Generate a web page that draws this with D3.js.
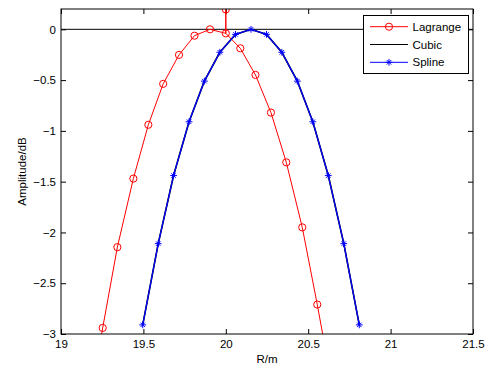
<!DOCTYPE html>
<html><head><meta charset="utf-8">
<script src="https://cdn.jsdelivr.net/npm/d3@7"></script>
<style>body{margin:0;background:#fff}svg{display:block}text{font-family:"Liberation Sans",Arial,sans-serif}</style>
</head><body>
<script>
// Data
const lagrangeX = [19.16, 19.253, 19.342, 19.439, 19.53, 19.62, 19.716, 19.81, 19.904, 20.0, 20.0, 20.0, 20.088, 20.18, 20.274, 20.367, 20.464, 20.555, 20.65];
const lagrangeY = [-3.8, -2.94, -2.145, -1.47, -0.94, -0.537, -0.252, -0.063, 0.0, -0.04, 0.196, -0.04, -0.187, -0.449, -0.82, -1.31, -1.95, -2.71, -3.55];
const lagrangeMarked = [false, true, true, true, true, true, true, true, true, true, true, false, true, true, true, true, true, true, false];
const splineX = [19.496, 19.59, 19.683, 19.777, 19.87, 19.964, 20.059, 20.153, 20.247, 20.34, 20.434, 20.528, 20.622, 20.716, 20.81];
const splineY = [-2.91, -2.11, -1.44, -0.91, -0.51, -0.226, -0.05, 0.0, -0.05, -0.226, -0.51, -0.91, -1.44, -2.11, -2.91];
const cubicX = splineX;
const cubicY = splineY;
const zeroLineX = [19, 21.5];
const zeroLineY = [0, 0];
const xTicks = [19, 19.5, 20, 20.5, 21, 21.5];
const yTicks = [0, -0.5, -1, -1.5, -2, -2.5, -3];
const legendLabels = ["Lagrange", "Cubic", "Spline"];

const W = 493, H = 365;
const m = {l: 61, r: 20, t: 9, b: 31};
const svg = d3.select("body").append("svg").attr("width", W).attr("height", H);
const x = d3.scaleLinear().domain([19, 21.5]).range([m.l, W - m.r]);
const y = d3.scaleLinear().domain([-3, 0.2]).range([H - m.b, m.t]);

svg.append("defs").append("clipPath").attr("id", "clip")
  .append("rect").attr("x", m.l).attr("y", m.t).attr("width", W - m.r - m.l).attr("height", H - m.b - m.t);

const fs = "11.5px";
// axes
const xAxisB = d3.axisBottom(x).tickValues(xTicks).tickSize(-5).tickPadding(5.5).tickFormat(d => d3.format("")(d));
const xAxisT = d3.axisTop(x).tickValues(xTicks).tickSize(-5).tickFormat("");
const yAxisL = d3.axisLeft(y).tickValues(yTicks).tickSize(-5).tickPadding(5).tickFormat(d => d3.format("")(d));
const yAxisR = d3.axisRight(y).tickValues(yTicks).tickSize(-5).tickFormat("");

function style(g) {
  g.select(".domain").remove();
  g.selectAll("line").attr("stroke", "#000");
  g.selectAll("text").attr("fill", "#000").style("font-size", fs);
}
svg.append("g").attr("transform", `translate(0,${H - m.b})`).call(xAxisB).call(style);
svg.append("g").attr("transform", `translate(0,${m.t})`).call(xAxisT).call(style);
svg.append("g").attr("transform", `translate(${m.l},0)`).call(yAxisL).call(style);
svg.append("g").attr("transform", `translate(${W - m.r},0)`).call(yAxisR).call(style);

const plot = svg.append("g").attr("clip-path", "url(#clip)");
const line = d3.line().x(d => x(d[0])).y(d => y(d[1]));

// zero line
plot.append("path").datum(zeroLineX.map((v, i) => [v, zeroLineY[i]]))
  .attr("d", line).attr("fill", "none").attr("stroke", "#000").attr("stroke-width", 1);

// cubic
plot.append("path").datum(cubicX.map((v, i) => [v, cubicY[i]]))
  .attr("d", line).attr("fill", "none").attr("stroke", "#000").attr("stroke-width", 1.6);

// lagrange
const lag = lagrangeX.map((v, i) => [v, lagrangeY[i], lagrangeMarked[i]]);
plot.append("path").datum(lag).attr("d", line).attr("fill", "none").attr("stroke", "#ff0000").attr("stroke-width", 1);
plot.selectAll(".lm").data(lag.filter(d => d[2])).join("circle")
  .attr("cx", d => x(d[0])).attr("cy", d => y(d[1])).attr("r", 3.6)
  .attr("fill", "none").attr("stroke", "#ff0000").attr("stroke-width", 1);

// spline
const spl = splineX.map((v, i) => [v, splineY[i]]);
plot.append("path").datum(spl).attr("d", line).attr("fill", "none").attr("stroke", "#0000ff").attr("stroke-width", 1.3);
function star(g, cx, cy, color) {
  const s = 3.4, d = s * 0.65;
  const p = `M${cx - s},${cy}L${cx + s},${cy}M${cx},${cy - s}L${cx},${cy + s}M${cx - d},${cy - d}L${cx + d},${cy + d}M${cx - d},${cy + d}L${cx + d},${cy - d}`;
  g.append("path").attr("d", p).attr("stroke", color).attr("stroke-width", 1).attr("fill", "none");
}
spl.forEach(d => star(plot, x(d[0]), y(d[1]), "#0000ff"));

// frame
svg.append("rect").attr("x", m.l).attr("y", m.t).attr("width", W - m.r - m.l).attr("height", H - m.b - m.t)
  .attr("fill", "none").attr("stroke", "#000").attr("stroke-width", 1);

// axis labels
svg.append("text").attr("x", (m.l + W - m.r) / 2).attr("y", 362.5).attr("text-anchor", "middle")
  .style("font-size", fs).text("R/m");
svg.append("text").attr("transform", `translate(25.5,${(m.t + H - m.b) / 2}) rotate(-90)`).attr("text-anchor", "middle")
  .style("font-size", fs).text("Amplitude/dB");

// legend
const lg = svg.append("g");
lg.append("rect").attr("x", 363.5).attr("y", 15.5).attr("width", 105).attr("height", 58)
  .attr("fill", "#fff").attr("stroke", "#000").attr("stroke-width", 1);
const colors = ["#ff0000", "#000000", "#0000ff"];
legendLabels.forEach((lab, i) => {
  const yy = 26.7 + i * 17.8;
  lg.append("line").attr("x1", 370).attr("x2", 408).attr("y1", yy).attr("y2", yy).attr("stroke", colors[i]).attr("stroke-width", 1);
  if (i === 0) lg.append("circle").attr("cx", 389).attr("cy", yy).attr("r", 3.6).attr("fill", "none").attr("stroke", colors[i]);
  if (i === 2) star(lg, 389, yy, colors[i]);
  lg.append("text").attr("x", 412.5).attr("y", yy + 4).style("font-size", fs).text(lab);
});
</script>
</body></html>
